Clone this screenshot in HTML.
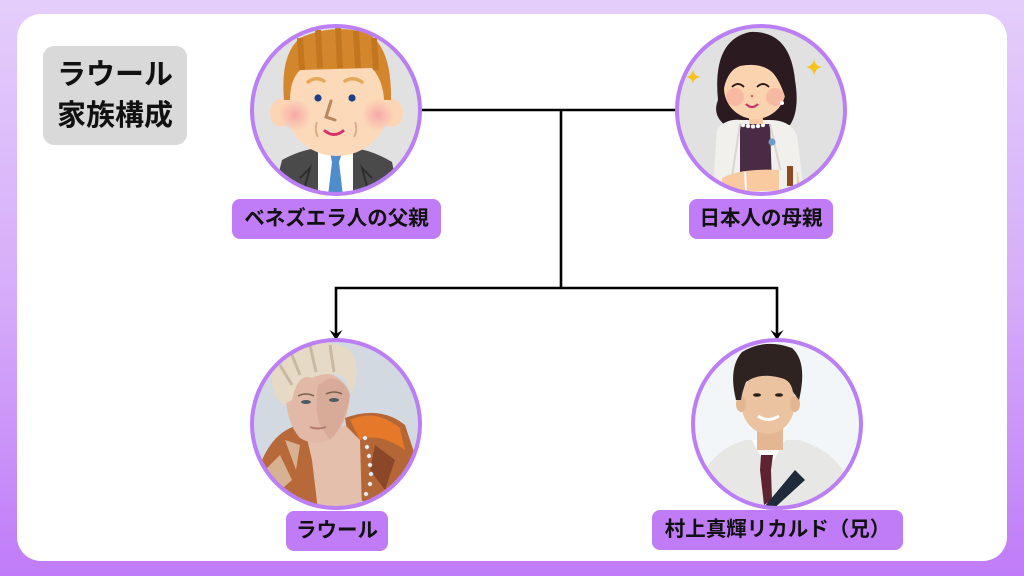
<!DOCTYPE html>
<html><head><meta charset="utf-8">
<style>
html,body{margin:0;padding:0;}
body{width:1024px;height:576px;overflow:hidden;position:relative;
background:linear-gradient(to bottom,#e4cdfb 0%,#d6adf9 50%,#c07cf8 100%);
font-family:"Liberation Sans","Noto Sans CJK JP",sans-serif;}
.card{position:absolute;left:17px;top:14px;width:990px;height:547px;background:#fff;border-radius:24px;}
.title{position:absolute;left:43px;top:46px;width:144px;height:99px;background:#d9d9d9;border-radius:11px;
font-weight:bold;font-size:29px;line-height:41px;text-align:center;color:#111;padding-top:9px;box-sizing:border-box;}
.lab{position:absolute;background:#c07cf6;border-radius:8px;font-weight:bold;font-size:20.5px;color:#111;
text-align:center;height:40px;line-height:40px;white-space:nowrap;}
svg{position:absolute;left:0;top:0;}
</style></head><body>
<div class="card"></div>
<div class="title">ラウール<br>家族構成</div>
<svg width="1024" height="576" viewBox="0 0 1024 576">
<defs>
<clipPath id="c1"><circle cx="336" cy="110" r="84"/></clipPath>
<clipPath id="c2"><circle cx="761" cy="110" r="84"/></clipPath>
<clipPath id="c3"><circle cx="336" cy="424" r="84"/></clipPath>
<clipPath id="c4"><circle cx="777" cy="424" r="84"/></clipPath>
<radialGradient id="ck"><stop offset="0" stop-color="#f7a3a6" stop-opacity="0.9"/><stop offset="1" stop-color="#f7a3a6" stop-opacity="0"/></radialGradient>
</defs>
<!-- connectors -->
<g stroke="#000" stroke-width="2.6" fill="none">
<line x1="420" y1="110" x2="680" y2="110"/>
<line x1="561" y1="110" x2="561" y2="288"/>
<polyline points="336,334 336,288 777,288 777,334"/>
</g>
<polygon points="329.5,330 336,334 342.5,330 336,340" fill="#000"/>
<polygon points="770.5,330 777,334 783.5,330 777,340" fill="#000"/>

<!-- Father -->
<g clip-path="url(#c1)">
<rect x="250" y="24" width="172" height="172" fill="#e1e1e1"/>
<path d="M282,160 Q300,150 318,148 L353,148 Q372,150 392,162 L400,200 L272,200 Z" fill="#4a4a4a"/>
<rect x="318" y="146" width="35" height="54" fill="#fff"/>
<path d="M330,153 L342,153 L339,162 L343,196 L328,196 L332,162 Z" fill="#4f8ccb"/>
<path d="M300,178 L310,168 L304,190" stroke="#2e2e2e" stroke-width="2" fill="none"/>
<path d="M372,178 L362,168 L368,190" stroke="#2e2e2e" stroke-width="2" fill="none"/>
<ellipse cx="281" cy="113" rx="11" ry="14" fill="#fcd6b4"/>
<ellipse cx="392" cy="113" rx="11" ry="14" fill="#fcd6b4"/>
<ellipse cx="337" cy="105" rx="52" ry="51" fill="#fcd9b8"/>
<circle cx="295" cy="115" r="16" fill="url(#ck)"/>
<circle cx="378" cy="115" r="16" fill="url(#ck)"/>
<path d="M284,100 Q280,55 300,38 Q330,24 365,32 Q392,45 391,100 L384,100 Q383,80 372,68 L300,70 Q290,80 290,100 Z" fill="#d4862c"/>
<path d="M300,38 L302,70 M318,30 L320,68 M338,28 L340,68 M356,31 L358,68 M374,38 L376,70" stroke="#c2761f" stroke-width="6"/>
<path d="M308,82 Q316,76 324,81 M345,81 Q353,76 362,82" stroke="#e5a85a" stroke-width="3.5" fill="none" stroke-linecap="round"/>
<circle cx="318" cy="98" r="3.6" fill="#1c3f87"/>
<circle cx="352" cy="98" r="3.6" fill="#1c3f87"/>
<path d="M331,101 L326,117 L335,120" stroke="#b8875e" stroke-width="3" fill="none" stroke-linecap="round"/>
<path d="M325,131 Q334,138 343,131" stroke="#d6336b" stroke-width="3" fill="none" stroke-linecap="round"/>
<path d="M317,122 Q314,130 318,137 M355,122 Q358,130 354,137" stroke="#d9ae8c" stroke-width="2" fill="none"/>
</g>
<circle cx="336" cy="110" r="84" fill="none" stroke="#bb7ef5" stroke-width="4"/>

<!-- Mother -->
<g clip-path="url(#c2)">
<rect x="676" y="24" width="172" height="172" fill="#e1e1e1"/>
<path d="M718,100 Q712,40 750,32 Q790,30 795,80 Q800,110 790,125 L725,125 Q712,115 718,100 Z" fill="#2b1b20"/>
<path d="M717,130 Q725,118 742,120 L770,120 Q790,120 797,135 L805,200 L712,200 Z" fill="#f1f0ec"/>
<path d="M740,124 L770,124 L772,185 L740,185 Z" fill="#4a2b45"/>
<path d="M740,124 L730,190 M770,124 L785,190" stroke="#d8d6d0" stroke-width="2" fill="none"/>
<circle cx="772" cy="142" r="3.5" fill="#6c9cc8"/>
<g fill="#fff" stroke="#ddd" stroke-width="0.5"><circle cx="743" cy="125" r="2"/><circle cx="748" cy="126" r="2"/><circle cx="753" cy="126.5" r="2"/><circle cx="758" cy="126" r="2"/><circle cx="763" cy="125" r="2"/></g>
<rect x="749" y="108" width="14" height="16" fill="#f6c7a0"/>
<ellipse cx="755" cy="88" rx="31" ry="31" fill="#fbd3ae"/>
<circle cx="735" cy="97" r="9" fill="#f6a999" opacity="0.6"/>
<circle cx="775" cy="97" r="9" fill="#f6a999" opacity="0.6"/>
<path d="M724,88 Q722,50 748,42 Q778,38 790,70 Q791,92 786,100 Q780,80 772,72 Q760,62 740,66 Q728,70 724,88 Z" fill="#2b1b20"/>
<path d="M732,87 Q738,81 744,87 M757,87 Q763,81 769,87" stroke="#2a1a1a" stroke-width="1.8" fill="none"/>
<circle cx="752" cy="96" r="1.3" fill="#d9606e"/>
<path d="M746,104 Q752,110 758,104" stroke="#c9306a" stroke-width="2.2" fill="none"/>
<circle cx="782" cy="103" r="2" fill="#fff"/>
<path d="M722,178 Q740,168 780,170 L798,172 L800,190 L722,192 Z" fill="#f9c9a0"/>
<rect x="779" y="170" width="18" height="20" fill="#f1f0ec"/>
<rect x="787" y="166" width="6" height="20" fill="#8f4a20"/>
<line x1="745" y1="172" x2="746" y2="190" stroke="#fff" stroke-width="2"/>
<path d="M693,70 Q694,76 700,77 Q694,78 693,84 Q692,78 686,77 Q692,76 693,70 Z" fill="#f6c21c"/>
<path d="M814,59 Q815,66 822,67 Q815,68 814,76 Q813,68 806,67 Q813,66 814,59 Z" fill="#f6c21c"/>
</g>
<circle cx="761" cy="110" r="84" fill="none" stroke="#bb7ef5" stroke-width="4"/>

<!-- Raoul -->
<g clip-path="url(#c3)">
<rect x="250" y="338" width="172" height="172" fill="#d3d9e0"/>
<path d="M258,470 Q272,430 300,425 L318,440 L325,510 L252,510 Z" fill="#b8693a"/>
<path d="M265,470 L280,455 L292,480 L275,495 Z M285,440 L300,445 L296,470" fill="#e3d0b8" opacity="0.7"/>
<path d="M345,418 Q380,405 405,425 L420,470 L410,510 L360,510 Z" fill="#b56636"/>
<path d="M350,420 Q375,408 400,428 L405,450 Q380,432 360,440 Z" fill="#e6782a"/>
<path d="M375,445 L395,460 L385,490 L370,470 Z" fill="#7a3a22" opacity="0.7"/>
<path d="M305,430 Q320,440 345,425 L360,440 L362,510 L318,510 L312,460 Z" fill="#e4bfac"/>
<g fill="#eeeeee" stroke="#999" stroke-width="0.5"><circle cx="365" cy="438" r="2.2"/><circle cx="367" cy="447" r="2.2"/><circle cx="369" cy="456" r="2.2"/><circle cx="370" cy="465" r="2.2"/><circle cx="371" cy="474" r="2.2"/><circle cx="370" cy="484" r="2.2"/><circle cx="366" cy="494" r="2.2"/><circle cx="362" cy="503" r="2.2"/></g>
<path d="M286,385 Q284,420 300,438 Q315,447 330,440 Q348,425 350,395 Q345,375 320,372 Q295,372 286,385 Z" fill="#e2b9a6"/>
<path d="M318,385 Q314,410 320,425 L330,440 Q345,425 350,395 Q345,380 330,378 Z" fill="#d2a290" opacity="0.6"/>
<ellipse cx="306" cy="402" rx="5" ry="2" fill="#4c5a66"/>
<ellipse cx="334" cy="400" rx="5" ry="2" fill="#4c5a66"/>
<path d="M298,396 Q306,392 314,396 M326,394 Q334,390 342,394" stroke="#7a6050" stroke-width="1.5" fill="none"/>
<path d="M310,427 Q318,430 326,427" stroke="#b07a70" stroke-width="2" fill="none"/>
<path d="M272,380 Q272,350 300,345 Q330,338 350,350 Q362,365 352,395 L345,378 Q330,370 312,378 Q298,372 292,400 L283,405 Q272,395 272,380 Z" fill="#e6dac6"/>
<path d="M290,350 L300,375 M310,345 L316,372 M330,345 L334,372 M280,365 L292,385" stroke="#c9b9a3" stroke-width="3"/>
</g>
<circle cx="336" cy="424" r="84" fill="none" stroke="#bb7ef5" stroke-width="4"/>

<!-- Brother -->
<g clip-path="url(#c4)">
<rect x="692" y="338" width="172" height="172" fill="#f3f6f9"/>
<path d="M700,480 Q712,450 745,440 L800,440 Q835,452 845,475 L850,512 L700,512 Z" fill="#e7e7e5"/>
<path d="M752,440 L768,470 L785,440 Z" fill="#fff"/>
<path d="M761,455 L773,455 L771,470 L772,500 L764,505 L760,470 Z" fill="#5e2331"/>
<path d="M795,470 L805,480 L770,512 L760,512 Z" fill="#1f2a3a"/>
<rect x="757" y="420" width="26" height="30" fill="#e4b692"/>
<ellipse cx="768" cy="402" rx="27" ry="32" fill="#ecc3a0"/>
<ellipse cx="741" cy="404" rx="5" ry="8" fill="#e4b692"/>
<ellipse cx="795" cy="404" rx="5" ry="8" fill="#e4b692"/>
<path d="M736,400 Q728,368 742,352 Q765,338 792,348 Q808,362 799,400 L793,392 Q791,380 781,378 Q760,372 746,382 Q742,392 741,400 Z" fill="#2f2321"/>
<ellipse cx="757" cy="395" rx="4" ry="1.8" fill="#2a1d1a"/>
<ellipse cx="779" cy="395" rx="4" ry="1.8" fill="#2a1d1a"/>
<path d="M758,416 Q768,423 779,416" stroke="#fff" stroke-width="3" fill="none"/>
</g>
<circle cx="777" cy="424" r="84" fill="none" stroke="#bb7ef5" stroke-width="4"/>
</svg>
<div class="lab" style="left:232px;top:199px;width:209px;">ベネズエラ人の父親</div>
<div class="lab" style="left:689px;top:199px;width:144px;">日本人の母親</div>
<div class="lab" style="left:286px;top:511px;width:102px;">ラウール</div>
<div class="lab" style="left:652px;top:510px;width:251px;">村上真輝リカルド（兄）</div>
</body></html>
